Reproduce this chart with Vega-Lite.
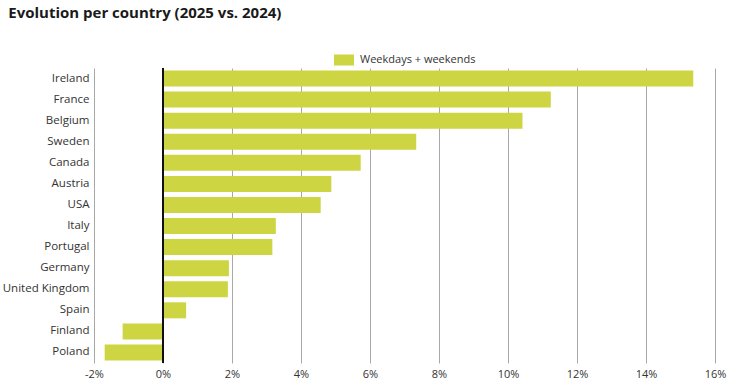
{
  "$schema": "https://vega.github.io/schema/vega-lite/v6.json",
  "width": 621,
  "height": 295,
  "padding": {"left": 2, "top": 6, "right": 20, "bottom": 5},
  "background": "white",
  "title": {
    "text": "Evolution per country (2025 vs. 2024)",
    "anchor": "start",
    "frame": "bounds",
    "font": "Open Sans",
    "fontSize": 15,
    "fontWeight": "bold",
    "color": "#1a1a1a",
    "offset": 29,
    "dx": 6
  },
  "config": {
    "view": {"stroke": null},
    "font": "Open Sans"
  },
  "data": {
    "values": [
      {"country": "Ireland", "change": 15.37, "series": "Weekdays + weekends"},
      {"country": "France", "change": 11.24, "series": "Weekdays + weekends"},
      {"country": "Belgium", "change": 10.42, "series": "Weekdays + weekends"},
      {"country": "Sweden", "change": 7.34, "series": "Weekdays + weekends"},
      {"country": "Canada", "change": 5.73, "series": "Weekdays + weekends"},
      {"country": "Austria", "change": 4.88, "series": "Weekdays + weekends"},
      {"country": "USA", "change": 4.57, "series": "Weekdays + weekends"},
      {"country": "Italy", "change": 3.27, "series": "Weekdays + weekends"},
      {"country": "Portugal", "change": 3.17, "series": "Weekdays + weekends"},
      {"country": "Germany", "change": 1.91, "series": "Weekdays + weekends"},
      {"country": "United Kingdom", "change": 1.88, "series": "Weekdays + weekends"},
      {"country": "Spain", "change": 0.67, "series": "Weekdays + weekends"},
      {"country": "Finland", "change": -1.17, "series": "Weekdays + weekends"},
      {"country": "Poland", "change": -1.69, "series": "Weekdays + weekends"}
    ]
  },
  "layer": [
    {
      "mark": {"type": "bar"},
      "encoding": {
        "y": {
          "field": "country",
          "type": "nominal",
          "sort": null,
          "scale": {"paddingInner": 0.24, "paddingOuter": 0.12},
          "axis": {
            "title": null,
            "domain": false,
            "ticks": false,
            "labelPadding": 5,
            "labelFontSize": 11.5,
            "labelColor": "#333333",
            "labelFont": "Open Sans"
          }
        },
        "x": {
          "field": "change",
          "type": "quantitative",
          "scale": {"domain": [-2, 16], "nice": false, "zero": false},
          "axis": {
            "title": null,
            "values": [-2, -1, 0, 1, 2, 3, 4, 5, 6, 7, 8, 9, 10, 11, 12, 13, 14, 15, 16],
            "labelExpr": "datum.value % 2 == 0 ? datum.value + '%' : ''",
            "labelFlush": false,
            "domain": false,
            "ticks": false,
            "grid": true,
            "gridColor": "#a8a8a8",
            "gridWidth": 1,
            "labelPadding": 5,
            "labelFontSize": 11,
            "labelColor": "#333333",
            "labelFont": "Open Sans"
          }
        },
        "color": {
          "field": "series",
          "type": "nominal",
          "scale": {"range": ["#cdd542"]},
          "legend": {
            "title": null,
            "orient": "none",
            "legendX": 240,
            "legendY": -18,
            "symbolType": "M-1,-0.55L1,-0.55L1,0.55L-1,0.55Z",
            "symbolSize": 400,
            "symbolStrokeWidth": 0,
            "symbolOpacity": 1,
            "labelFontSize": 11,
            "labelColor": "#333333",
            "labelFont": "Open Sans",
            "labelOffset": 6
          }
        }
      }
    },
    {
      "mark": {"type": "rule", "color": "#111111", "strokeWidth": 1.2},
      "encoding": {"x": {"datum": 0}}
    }
  ]
}
